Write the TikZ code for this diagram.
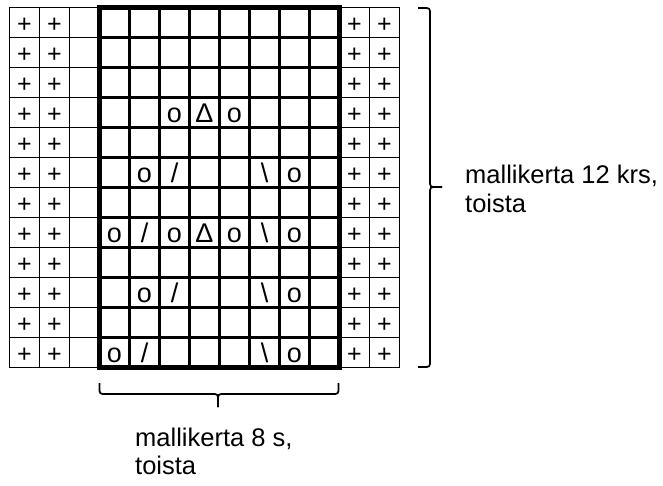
\documentclass[tikz,border=0pt]{standalone}
\usepackage{fontspec}
\setmainfont{Liberation Sans}
\begin{document}
\begin{tikzpicture}[x=1pt,y=-1pt,
  sym/.style={anchor=base,inner sep=0pt,font=\fontsize{27}{27}\selectfont},
  plussym/.style={sym,font=\fontsize{25}{25}\selectfont},
  thinline/.style={line width=1.5pt},
  innerline/.style={line width=2.3pt},
  thickbox/.style={line width=4.8pt},
  bracket/.style={line width=1.7pt,rounded corners=3pt},
  lbl/.style={anchor=base west,inner sep=0pt,font=\fontsize{25.5}{28}\selectfont}]
\useasboundingbox (0,0) rectangle (663,486);
% grid
\foreach \i in {0,...,13} \draw[thinline] (9.5+30*\i,7.5) -- (9.5+30*\i,367.5);
\foreach \j in {0,...,12} \draw[thinline] (9.5,7.5+30*\j) -- (399.5,7.5+30*\j);
\foreach \i in {4,...,10} \draw[innerline] (9.5+30*\i,7.5) -- (9.5+30*\i,367.5);
\foreach \j in {1,...,11} \draw[innerline] (99.5,7.5+30*\j) -- (339.5,7.5+30*\j);
\draw[thickbox] (99.5,7.5) rectangle (339.5,367.5);
% plus stitches
\foreach \r in {1,...,12} \foreach \c in {1,2,12,13}
  \node[plussym] (p\r-\c) at (30*\c-5.5,30*\r+2.5) {+};
% pattern symbols
\foreach \r/\c in {4/6,4/8,6/5,6/10,8/4,8/6,8/8,8/10,10/5,10/10,12/4,12/10}
  \node[sym] (o\r-\c) at (30*\c-5.5,30*\r+2.5) {o};
\foreach \r/\c in {4/7,8/7}
  \node[sym] (d\r-\c) at (30*\c-5.5,30*\r+2.5) {Δ};
\foreach \r/\c in {6/6,8/5,10/6,12/5}
  \node[sym] (s\r-\c) at (30*\c-5.5,30*\r+2.5) {/};
\foreach \r/\c in {6/9,8/9,10/9,12/9}
  \node[sym] (b\r-\c) at (30*\c-5.5,30*\r+2.5) {\textbackslash};
% right bracket
\coordinate (rt) at (418,8);
\coordinate (rtc) at (430,8);
\coordinate (rmc) at (430,187);
\coordinate (rtip) at (442,187);
\coordinate (rbc) at (430,367);
\coordinate (rb) at (418,367);
\draw[bracket] (rt) -- (rtc) -- (rmc) -- (rtip);
\draw[bracket] (rtip) -- (rmc) -- (rbc) -- (rb);
% bottom bracket
\coordinate (bl) at (99.5,383);
\coordinate (blc) at (99.5,394);
\coordinate (bmc) at (218,394);
\coordinate (btip) at (218,407);
\coordinate (brc) at (338.5,394);
\coordinate (br) at (338.5,383);
\draw[bracket] (bl) -- (blc) -- (bmc) -- (btip);
\draw[bracket] (btip) -- (bmc) -- (brc) -- (br);
% labels
\node[lbl] (rl1) at (465,184) {mallikerta 12 krs,};
\node[lbl] (rl2) at (465,212) {toista};
\node[lbl] (bl1) at (135,446) {mallikerta 8 s,};
\node[lbl] (bl2) at (135,474) {toista};
\end{tikzpicture}
\end{document}
